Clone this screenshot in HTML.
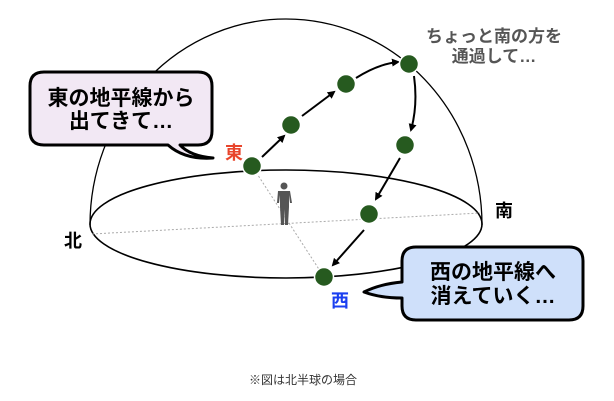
<!DOCTYPE html>
<html><head><meta charset="utf-8"><style>
body{margin:0;background:#fff;}
svg{display:block;font-family:"Liberation Sans","Noto Sans CJK JP",sans-serif;}
</style></head><body>
<svg width="614" height="401" viewBox="0 0 614 401" xmlns="http://www.w3.org/2000/svg">
<defs>
<marker id="ah" markerWidth="8" markerHeight="8" refX="6" refY="4" orient="auto" markerUnits="userSpaceOnUse">
<path d="M0,0 L8,4 L0,8 Z" fill="#000"/></marker>
</defs>
<path d="M90,225 A196,206 0 0 1 482,225" fill="none" stroke="#000" stroke-width="1.3"/>
<ellipse cx="286" cy="224" rx="196" ry="54" fill="none" stroke="#000" stroke-width="1.6"/>
<line x1="252" y1="166" x2="324" y2="277" stroke="#aaa" stroke-width="1" stroke-dasharray="2,2"/>
<line x1="92" y1="234" x2="480" y2="213" stroke="#aaa" stroke-width="1" stroke-dasharray="2,2"/>
<g fill="#555">
<circle cx="284" cy="186" r="3.5"/>
<path d="M278,191 h12 l2,12 h-2 l-1,-8 v12 l-1,18 h-3 l-0.5,-16 l-0.5,16 h-3 l-1,-18 v-12 l-1,8 h-2 Z"/>
</g>
<g stroke="#000" stroke-width="2" fill="none" marker-end="url(#ah)">
<line x1="262" y1="157" x2="284" y2="136"/>
<line x1="302" y1="116" x2="334" y2="92"/>
<path d="M356,78 Q378,64 398,62"/>
<path d="M414,76 Q418,105 411,130"/>
<line x1="400" y1="158" x2="376" y2="199"/>
<line x1="364" y1="230" x2="333" y2="265"/>
</g>
<g fill="#265a1f" stroke="#fff" stroke-width="1.5">
<circle cx="252" cy="166" r="9.5"/>
<circle cx="291" cy="125" r="9.5"/>
<circle cx="346" cy="84" r="9.5"/>
<circle cx="409" cy="64" r="9.5"/>
<circle cx="405" cy="145" r="9.5"/>
<circle cx="369" cy="214" r="9.5"/>
<circle cx="324" cy="277" r="9.5"/>
</g>
<path d="M44,72 H198 Q212,72 212,86 V131 Q212,145 198,145 H180 Q190,156 213,158 Q185,160 168,145 H44 Q30,145 30,131 V86 Q30,72 44,72 Z" fill="#f2e8f4" stroke="#000" stroke-width="3" stroke-linejoin="round"/>
<text x="121" y="105" font-size="21" font-weight="bold" text-anchor="middle">東の地平線から</text>
<text x="121" y="128" font-size="21" font-weight="bold" text-anchor="middle">出てきて…</text>
<path d="M416,247 H569 Q583,247 583,261 V306 Q583,320 569,320 H416 Q402,320 402,306 V298 Q380,298 364,292 Q380,284 402,282 V261 Q402,247 416,247 Z" fill="#cfe0fa" stroke="#000" stroke-width="3" stroke-linejoin="round"/>
<text x="493" y="279" font-size="21" font-weight="bold" text-anchor="middle">西の地平線へ</text>
<text x="493" y="303" font-size="21" font-weight="bold" text-anchor="middle">消えていく…</text>
<text x="234" y="159" font-size="18" font-weight="bold" fill="#e8452c" text-anchor="middle">東</text>
<text x="340" y="307" font-size="18" font-weight="bold" fill="#1a3ff0" text-anchor="middle">西</text>
<text x="73" y="247" font-size="18" font-weight="bold" text-anchor="middle">北</text>
<text x="504" y="217" font-size="18" font-weight="bold" text-anchor="middle">南</text>
<text x="494" y="42" font-size="17" font-weight="bold" fill="#555" text-anchor="middle">ちょっと南の方を</text>
<text x="494" y="62" font-size="17" font-weight="bold" fill="#555" text-anchor="middle">通過して…</text>
<text x="303" y="384" font-size="12" fill="#333" text-anchor="middle">※図は北半球の場合</text>
</svg>
</body></html>
